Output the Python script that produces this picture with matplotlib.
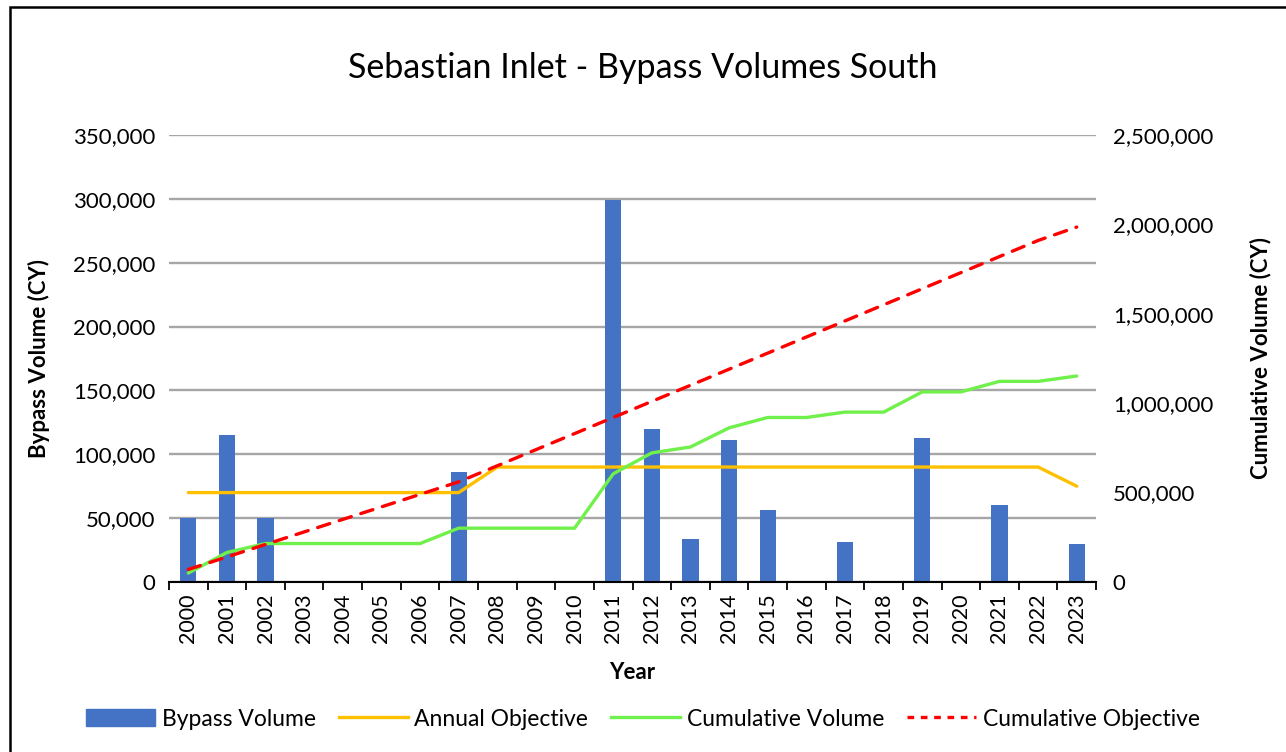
import matplotlib
matplotlib.use("Agg")
import matplotlib.pyplot as plt
import matplotlib.patches as mpatches
from matplotlib.lines import Line2D
from matplotlib.ticker import FuncFormatter, FixedLocator
import numpy as np

plt.rcParams["font.family"] = ["Lato", "DejaVu Sans"]
plt.rcParams["font.size"] = 16

# データ
years = list(range(2000, 2024))
bypass_volume = [50000, 115000, 50000, 0, 0, 0, 0, 86000, 0, 0, 0, 299000,
                 120000, 34000, 111000, 56000, 0, 31000, 0, 113000, 0, 60000, 0, 30000]
annual_objective = [70000] * 8 + [90000] * 15 + [75000]
cumulative_volume = [50000, 165000, 215000, 215000, 215000, 215000, 215000, 301000,
                     301000, 301000, 301000, 605000, 722000, 755000, 862000, 920000,
                     920000, 950000, 950000, 1063000, 1063000, 1122000, 1122000, 1152000]
cumulative_objective = [70000, 140000, 210000, 280000, 350000, 420000, 490000, 560000,
                        650000, 740000, 830000, 920000, 1010000, 1100000, 1190000, 1280000,
                        1370000, 1460000, 1550000, 1640000, 1730000, 1820000, 1910000, 1985000]

BLUE = "#4472C4"
ORANGE = "#FFC000"
GREEN = "#70F04A"
RED = "#FF0000"
GRID = "#A6A6A6"

fig = plt.figure(figsize=(12.86, 7.52), dpi=100)
fig.patch.set_facecolor("white")
ax = fig.add_axes([0.1314, 0.2261, 0.7209, 0.5944])
ax2 = ax.twinx()

x = np.arange(len(years))
ax.bar(x, bypass_volume, width=0.42, color=BLUE, zorder=2)
ax.plot(x, annual_objective, color=ORANGE, lw=2.4, zorder=3, solid_capstyle="round")
ax2.plot(x, cumulative_volume, color=GREEN, lw=2.4, zorder=3, solid_capstyle="round")
ax2.plot(x, cumulative_objective, color=RED, lw=2.4, ls=(0, (3.8, 3.0)), zorder=4,
         dash_capstyle="round")

ax.set_xlim(-0.5, len(years) - 0.5)
ax.set_ylim(0, 350000)
ax2.set_ylim(0, 2500000)
ax.set_yticks(np.arange(0, 350001, 50000))
ax2.set_yticks(np.arange(0, 2500001, 500000))
fmt = FuncFormatter(lambda v, p: f"{int(v):,}")
ax.yaxis.set_major_formatter(fmt)
ax2.yaxis.set_major_formatter(fmt)

ax.yaxis.grid(True, color=GRID, lw=1.7, zorder=0)
ax.set_axisbelow(True)

ax.set_xticks(x)
ax.set_xticklabels([str(y) for y in years], rotation=90)
ax.xaxis.set_minor_locator(FixedLocator(np.arange(-0.5, len(years), 1)))
ax.tick_params(axis="x", which="major", length=0, pad=8, labelsize=15.5)
ax.tick_params(axis="x", which="minor", length=6, width=1.3, color="black")
ax.tick_params(axis="y", length=0, pad=10, labelsize=16)
ax2.tick_params(axis="y", length=0, pad=12, labelsize=16)

for a in (ax, ax2):
    for s in ("top", "left", "right", "bottom"):
        a.spines[s].set_visible(False)
ax.spines["bottom"].set_visible(True)
ax.spines["bottom"].set_linewidth(1.5)
ax.spines["bottom"].set_zorder(5)

ax.set_xlabel("Year", fontsize=16, fontweight="bold", labelpad=14)
ax.set_ylabel("Bypass Volume (CY)", fontsize=16, fontweight="bold", labelpad=16)
ax2.set_ylabel("Cumulative Volume (CY)", fontsize=16, fontweight="bold", labelpad=26)

fig.text(0.5, 1 - 68 / 752, "Sebastian Inlet - Bypass Volumes South",
         ha="center", va="center", fontsize=24.5)

handles = [
    mpatches.Patch(color=BLUE, label="Bypass Volume"),
    Line2D([], [], color=ORANGE, lw=2.4, label="Annual Objective"),
    Line2D([], [], color=GREEN, lw=2.4, label="Cumulative Volume"),
    Line2D([], [], color=RED, lw=2.4, ls=(0, (2, 2)), label="Cumulative Objective"),
]
fig.legend(handles=handles, loc="center", bbox_to_anchor=(0.5, 1 - 719 / 752),
           ncol=4, frameon=False, fontsize=16.5, handlelength=3.0,
           handletextpad=0.3, columnspacing=1.0)

# 外枠（左と上のみ見える）
fig.add_artist(mpatches.Rectangle((10 / 1286, -0.1), 1.2, 1 - 7 / 752 + 0.1,
                                  transform=fig.transFigure, fill=False,
                                  edgecolor="black", lw=1.8))

fig.savefig("out.png", dpi=100)
